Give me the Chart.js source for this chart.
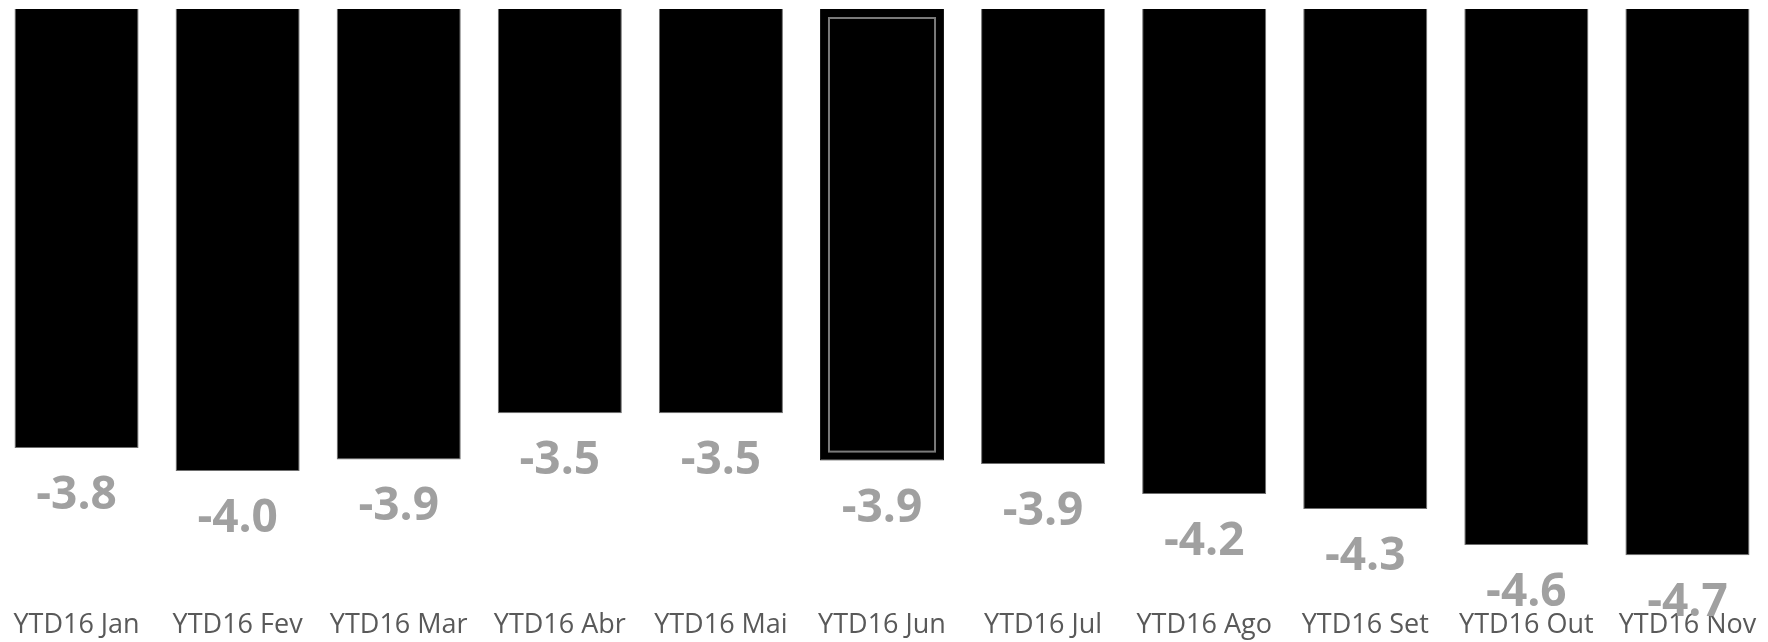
<!DOCTYPE html>
<html>
<head>
<meta charset="utf-8">
<script src="https://cdn.jsdelivr.net/npm/chart.js@4/dist/chart.umd.min.js"></script>
<style>
    html, body { margin: 0; padding: 0; background: #ffffff; overflow: hidden; }
    #grafico { position: absolute; left: -4px; top: 0; }
</style>
</head>
<body>
<canvas id="grafico" width="1772" height="642"></canvas>
<script>
// --- Dados do gráfico ---
const meses = ['YTD16 Jan', 'YTD16 Fev', 'YTD16 Mar', 'YTD16 Abr', 'YTD16 Mai', 'YTD16 Jun',
               'YTD16 Jul', 'YTD16 Ago', 'YTD16 Set', 'YTD16 Out', 'YTD16 Nov'];
const valores = [-3.80, -4.00, -3.90, -3.50, -3.50, -3.91, -3.94, -4.20, -4.33, -4.64, -4.73];
const destaque = 5; // barra de Jun aparece "selecionada" com moldura cinza

// Rótulos de valor abaixo de cada barra (cinza, negrito)
const rotulosValor = {
    id: 'rotulosValor',
    afterDatasetsDraw(chart) {
        const ctx = chart.ctx;
        const meta = chart.getDatasetMeta(0);
        ctx.save();

        // Moldura interna da barra destacada
        const barra = meta.data[destaque];
        if (barra) {
            const p = barra.getProps(['x', 'y', 'base', 'width'], true);
            const inset = 9;
            ctx.strokeStyle = '#7a7a7a';
            ctx.lineWidth = 2;
            ctx.strokeRect(p.x - p.width / 2 + inset, p.base + inset,
                p.width - inset * 2, (p.y - p.base) - inset * 2);
        }

        ctx.font = "bold 46px 'Open Sans', sans-serif";
        ctx.fillStyle = '#a0a0a0';
        ctx.textAlign = 'center';
        ctx.textBaseline = 'alphabetic';
        meta.data.forEach((el, i) => {
            const texto = valores[i].toFixed(1);
            ctx.fillText(texto, el.x, el.y + 61);
        });
        ctx.restore();
    }
};

const ctx = document.getElementById('grafico');
const coresBorda = valores.map((v, i) => i === destaque ? '#1a1a1a' : '#6e6e6e');

new Chart(ctx.getContext('2d'), {
    type: 'bar',
    data: {
        labels: meses,
        datasets: [{
            data: valores,
            backgroundColor: '#000000',
            borderColor: coresBorda,
            borderWidth: 1,
            barPercentage: 0.77,
            categoryPercentage: 1.0
        }]
    },
    options: {
        responsive: false,
        animation: false,
        devicePixelRatio: 1,
        layout: { padding: { top: 9, bottom: 0, left: 0, right: 0 } },
        plugins: {
            legend: { display: false },
            tooltip: { enabled: false }
        },
        scales: {
            x: {
                grid: { display: false, drawTicks: false },
                border: { display: false },
                ticks: {
                    color: '#595959',
                    padding: 0,
                    maxRotation: 0,
                    autoSkip: false,
                    font: { family: "'Open Sans', sans-serif", size: 27 }
                }
            },
            y: {
                display: false,
                min: -5.2,
                max: 0
            }
        }
    },
    plugins: [rotulosValor]
});
</script>
</body>
</html>
